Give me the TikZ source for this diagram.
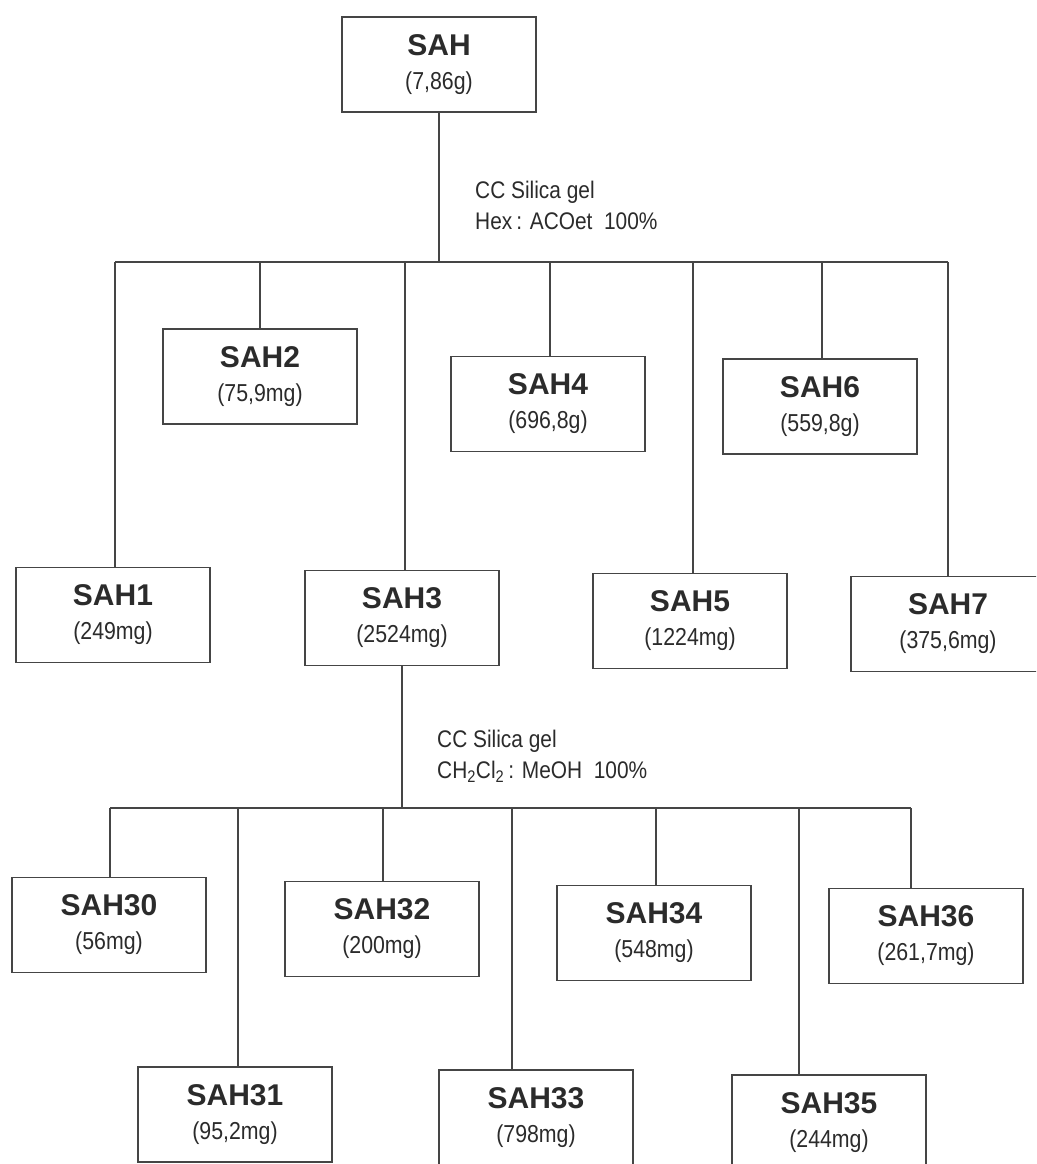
\documentclass[tikz,border=0pt]{standalone}
\usepackage{fontspec}
\setmainfont{Liberation Sans}
\newfontfamily\narrowfont[FakeStretch=0.87]{Liberation Sans}
\definecolor{ink}{HTML}{2B2B2B}
\definecolor{wire}{HTML}{454545}
\newcommand{\titlef}{\normalfont\fontsize{30}{34}\selectfont\bfseries}
\newcommand{\amtf}{\narrowfont\fontsize{24.5}{34}\selectfont}
\tikzset{
  fracbox/.style={draw=wire, line width=1.3pt, text=ink, minimum width=194pt,
    minimum height=95pt, inner sep=0pt, align=center, font=\amtf},
  wireline/.style={draw=wire, line width=1.3pt},
  cond/.style={anchor=west, align=left, text=ink, inner sep=0pt, font=\narrowfont\fontsize{24}{31}\selectfont}
}
\begin{document}
\begin{tikzpicture}[x=1pt, y=-1pt]
\useasboundingbox (0,0) rectangle (1036,1164);
\fill[white] (0,0) rectangle (1036,1164);
\clip (0,0) rectangle (1036,1164);
% level 0
\node[fracbox] (SAH) at (439,64.5) {{\titlef SAH}\\(7,86g)};
% level 1
\node[fracbox] (SAH1) at (113,615) {{\titlef SAH1}\\(249mg)};
\node[fracbox] (SAH2) at (260,376.5) {{\titlef SAH2}\\(75,9mg)};
\node[fracbox] (SAH3) at (402,618) {{\titlef SAH3}\\(2524mg)};
\node[fracbox] (SAH4) at (548,404) {{\titlef SAH4}\\(696,8g)};
\node[fracbox] (SAH5) at (690,621) {{\titlef SAH5}\\(1224mg)};
\node[fracbox] (SAH6) at (820,406.5) {{\titlef SAH6}\\(559,8g)};
\node[fracbox] (SAH7) at (948,624) {{\titlef SAH7}\\(375,6mg)};
% level 2
\node[fracbox] (SAH30) at (109,925) {{\titlef SAH30}\\(56mg)};
\node[fracbox] (SAH31) at (235,1114.5) {{\titlef SAH31}\\(95,2mg)};
\node[fracbox] (SAH32) at (382,929) {{\titlef SAH32}\\(200mg)};
\node[fracbox] (SAH33) at (536,1117.5) {{\titlef SAH33}\\(798mg)};
\node[fracbox] (SAH34) at (654,933) {{\titlef SAH34}\\(548mg)};
\node[fracbox] (SAH35) at (829,1122.5) {{\titlef SAH35}\\(244mg)};
\node[fracbox] (SAH36) at (926,936) {{\titlef SAH36}\\(261,7mg)};
% conditions
\node[cond] (c1) at (475,205) {CC Silica gel\\Hex\thinspace: ACOet\ \ 100\%};
\node[cond] (c2) at (437,756) {CC Silica gel\\CH\textsubscript{2}Cl\textsubscript{2}\thinspace: MeOH\ \ 100\%};
% junction levels
\coordinate (j1) at (439,262);
\coordinate (j2) at (402,808);
% first split
\draw[wireline] (SAH.south) -- (SAH.south |- j1);
\draw[wireline] ([xshift=2pt]SAH1.north |- j1) -- (SAH7.north |- j1);
\foreach \n/\dx in {SAH1/2, SAH2/0, SAH3/3, SAH4/2, SAH5/3, SAH6/2, SAH7/0}{
  \draw[wireline] ([xshift=\dx pt]\n.north) -- ([xshift=\dx pt]\n.north |- j1);
}
% second split
\draw[wireline] (SAH3.south) -- (SAH3.south |- j2);
\draw[wireline] ([xshift=1pt]SAH30.north |- j2) -- ([xshift=-15pt]SAH36.north |- j2);
\foreach \n/\dx in {SAH30/1, SAH31/3, SAH32/1, SAH33/-24, SAH34/2, SAH35/-30, SAH36/-15}{
  \draw[wireline] ([xshift=\dx pt]\n.north) -- ([xshift=\dx pt]\n.north |- j2);
}
\end{tikzpicture}
\end{document}
